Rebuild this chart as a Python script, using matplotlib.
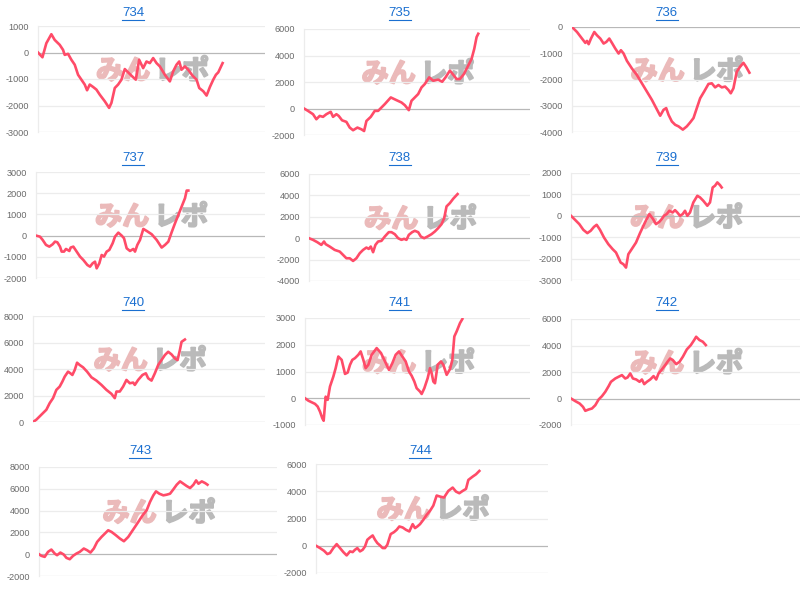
import matplotlib.pyplot as plt
from matplotlib.lines import Line2D
import matplotlib.patheffects as pe


# machine numbers (chart titles)
machines = ['734', '735', '736', '737', '738', '739', '740', '741', '742', '743', '744']

# games played / coin difference
g_734 = [0, 160, 300, 480, 600, 780, 900, 960, 1080, 1200, 1320, 1440, 1560, 1680, 1764, 1860, 1980, 2100, 2220,
         2400, 2556, 2640, 2760, 2880, 3000, 3120, 3240, 3360, 3516, 3636, 3780, 3900, 4020, 4140, 4260, 4380,
         4560, 4740, 4860, 4980, 5076, 5160, 5280, 5400, 5556, 5700, 5796, 5940, 6060, 6180, 6300, 6396, 6480, 6636]
d_734 = [0, -180, 350, 690, 475, 290, 100, -90, -50, -275, -460, -840, -1025, -1210, -1425, -1210, -1300, -1400,
         -1590, -1840, -2090, -1900, -1340, -1210, -1025, -625, -750, -875, -1025, -275, -590, -340, -400, -210,
         -400, -525, -840, -1090, -710, -460, -340, -650, -525, -650, -875, -1025, -1340, -1460, -1625, -1300,
         -1025, -840, -750, -400]

g_735 = [0, 144, 324, 444, 564, 684, 804, 960, 1044, 1164, 1248, 1368, 1524, 1644, 1764, 1920, 2064, 2160, 2244,
         2400, 2544, 2664, 2784, 2904, 3120, 3324, 3504, 3624, 3768, 3864, 3984, 4104, 4224, 4344, 4500, 4644,
         4824, 4968, 5088, 5244, 5364, 5484, 5604, 5748, 5904, 6024, 6120, 6204, 6264]
d_735 = [0, -180, -430, -810, -560, -630, -430, -250, -630, -430, -560, -890, -1010, -1440, -1640, -1440, -1570,
         -1700, -940, -630, -180, -180, 75, 330, 835, 630, 455, 250, -125, 580, 835, 1090, 1590, 1850, 2350, 2100,
         2175, 2020, 2350, 2860, 2550, 2225, 2225, 2600, 3240, 3745, 4500, 5390, 5640]

g_736 = [0, 180, 360, 480, 540, 600, 684, 804, 900, 1020, 1140, 1236, 1344, 1440, 1560, 1680, 1764, 1860, 1980,
         2160, 2340, 2520, 2700, 2880, 3036, 3180, 3300, 3396, 3480, 3600, 3720, 3840, 3996, 4140, 4260, 4380,
         4500, 4620, 4764, 4920, 5040, 5160, 5280, 5400, 5520, 5640, 5724, 5820, 5940, 6060, 6180, 6276, 6396]
d_736 = [0, -190, -440, -605, -530, -655, -440, -190, -315, -440, -630, -570, -440, -605, -820, -1010, -885,
         -1010, -1290, -1580, -1830, -2145, -2460, -2775, -3090, -3380, -3155, -3090, -3345, -3600, -3725, -3785,
         -3910, -3785, -3635, -3470, -3090, -2715, -2460, -2170, -2145, -2300, -2210, -2300, -2270, -2400, -2525,
         -2335, -1705, -1515, -1365, -1515, -1740]

g_737 = [0, 144, 240, 360, 480, 600, 684, 768, 864, 924, 1008, 1080, 1200, 1248, 1344, 1464, 1584, 1704, 1848,
         1944, 2040, 2124, 2184, 2280, 2364, 2448, 2544, 2640, 2760, 2844, 2964, 3084, 3168, 3264, 3384, 3504,
         3564, 3648, 3744, 3864, 3984, 4164, 4344, 4524, 4644, 4764, 4884, 5004, 5124, 5244, 5364, 5424, 5484]
d_737 = [0, -50, -205, -440, -520, -410, -285, -315, -520, -755, -755, -630, -725, -565, -520, -755, -990, -1150,
         -1385, -1465, -1305, -1230, -1545, -1305, -915, -990, -755, -675, -360, -50, 140, 0, -125, -600, -725,
         -630, -755, -440, -205, 315, 220, 65, -205, -565, -440, -285, 160, 580, 975, 1370, 1765, 2125, 2125]

g_738 = [0, 144, 300, 444, 540, 600, 744, 924, 1104, 1224, 1344, 1464, 1584, 1704, 1824, 1944, 2064, 2148, 2220,
         2304, 2388, 2484, 2604, 2724, 2868, 2964, 3084, 3204, 3324, 3420, 3504, 3588, 3708, 3804, 3924, 4020,
         4140, 4260, 4404, 4524, 4644, 4764, 4860, 4944, 5064, 5184, 5340]
d_738 = [0, -155, -375, -625, -310, -560, -780, -1095, -1250, -1560, -1875, -1875, -2125, -1875, -1405, -1095,
         -875, -1000, -780, -1310, -625, -310, -250, 155, 565, 565, 375, 0, -155, -60, -155, 310, 565, 690, 565,
         155, 0, 155, 375, 625, 940, 1310, 1875, 2970, 3280, 3690, 4125]

g_739 = [0, 144, 300, 444, 588, 708, 828, 924, 1044, 1188, 1344, 1500, 1620, 1704, 1788, 1884, 1980, 2064, 2184,
         2340, 2484, 2664, 2820, 2940, 3060, 3180, 3264, 3348, 3444, 3540, 3660, 3744, 3828, 3924, 4020, 4104,
         4188, 4284, 4404, 4548, 4644, 4764, 4908, 5004, 5100, 5184, 5268, 5364, 5424]
d_739 = [0, -185, -390, -655, -810, -700, -515, -420, -655, -1015, -1325, -1560, -1715, -1950, -2185, -2260,
         -2420, -1795, -1560, -1250, -810, -310, 80, -125, -390, -280, -155, 0, 80, 235, 155, 265, 155, 0, 80,
         235, 0, 155, 625, 935, 860, 700, 470, 625, 1325, 1405, 1560, 1435, 1325]

g_740 = [0, 120, 240, 360, 480, 600, 720, 840, 960, 1056, 1140, 1260, 1344, 1416, 1500, 1584, 1680, 1800, 1944,
         2100, 2280, 2460, 2640, 2820, 2940, 3000, 3120, 3240, 3360, 3480, 3600, 3660, 3780, 3936, 4056, 4140,
         4260, 4380, 4500, 4620, 4740, 4860, 4980, 5100, 5196, 5280, 5340, 5460]
d_740 = [0, 175, 425, 675, 925, 1425, 1800, 2425, 2675, 3050, 3425, 3800, 3675, 3550, 3925, 4475, 4300, 4125,
         3800, 3375, 3125, 2800, 2425, 2125, 1800, 2300, 2300, 2675, 3175, 2925, 2975, 2800, 3175, 3550, 3675,
         3300, 3125, 3675, 4300, 4675, 5050, 5300, 5100, 4800, 4675, 5425, 6050, 6225]

g_741 = [0, 120, 240, 360, 456, 540, 624, 672, 744, 816, 900, 1020, 1104, 1200, 1320, 1440, 1536, 1620, 1704,
         1800, 1920, 2004, 2100, 2184, 2280, 2400, 2580, 2736, 2880, 3024, 3144, 3264, 3384, 3504, 3624, 3744,
         3840, 3936, 4020, 4140, 4200, 4296, 4416, 4500, 4560, 4620, 4680, 4776, 4896, 4980, 5100, 5220, 5304,
         5376, 5460, 5580, 5664]
d_741 = [0, -90, -150, -210, -310, -500, -750, -840, 60, -60, 440, 810, 1125, 1560, 1435, 910, 960, 1250, 1435,
         1500, 1625, 1750, 1435, 1125, 1250, 1625, 1875, 1690, 1375, 1060, 1310, 1625, 1750, 1560, 1375, 1000,
         840, 625, 375, 250, 160, 375, 750, 1125, 935, 625, 560, 1250, 1375, 1250, 875, 1090, 1435, 2310, 2500,
         2810, 2960]

g_742 = [0, 156, 312, 432, 516, 636, 756, 876, 996, 1116, 1236, 1356, 1440, 1596, 1716, 1836, 1956, 2040, 2136,
         2232, 2352, 2472, 2556, 2640, 2736, 2856, 2976, 3072, 3156, 3276, 3396, 3480, 3576, 3672, 3792, 3912,
         4032, 4176, 4320, 4440, 4512, 4632, 4752, 4860]
d_742 = [0, -200, -380, -630, -930, -830, -755, -505, -75, 175, 505, 930, 1260, 1510, 1640, 1765, 1510, 1590,
         1890, 1510, 1435, 1260, 1435, 1085, 1260, 1435, 1690, 1435, 1890, 2190, 2520, 2770, 3025, 2900, 2595,
         2770, 3150, 3705, 4030, 4410, 4660, 4410, 4285, 4030]

g_743 = [0, 84, 204, 324, 444, 564, 648, 768, 888, 984, 1104, 1224, 1344, 1464, 1608, 1728, 1848, 1968, 2088,
         2244, 2364, 2484, 2604, 2760, 2904, 3048, 3204, 3324, 3444, 3564, 3720, 3864, 3984, 4104, 4200, 4320,
         4464, 4584, 4704, 4824, 4944, 5064, 5184, 5304, 5424, 5544, 5640, 5724, 5844, 5964, 6048]
d_743 = [0, -150, -245, 215, 425, 60, -90, 150, -30, -335, -460, -150, 60, 215, 520, 365, 150, 520, 1130, 1585,
         1890, 2195, 2045, 1740, 1435, 1190, 1585, 2045, 2500, 2960, 3570, 4025, 4790, 5400, 5765, 5550, 5400,
         5460, 5550, 5950, 6375, 6680, 6465, 6250, 6070, 6375, 6770, 6465, 6680, 6525, 6375]

g_744 = [0, 144, 288, 408, 504, 624, 744, 864, 984, 1104, 1224, 1320, 1404, 1488, 1584, 1680, 1764, 1848, 1944,
         2040, 2124, 2208, 2304, 2400, 2484, 2568, 2688, 2808, 2904, 3000, 3120, 3240, 3360, 3480, 3564, 3648,
         3744, 3864, 3984, 4104, 4224, 4344, 4464, 4608, 4764, 4920, 5040, 5160, 5280, 5400, 5484, 5640, 5760,
         5880]
d_744 = [0, -170, -365, -610, -535, -170, 120, -170, -465, -710, -415, -465, -295, -170, -415, -295, -50, 440,
         610, 755, 440, 195, 25, -170, -170, 75, 855, 1000, 1170, 1415, 1340, 1170, 1050, 1585, 1295, 1415, 1585,
         1905, 2270, 2560, 2950, 3685, 3610, 3540, 4025, 4270, 3975, 3855, 4025, 4170, 4830, 5075, 5245, 5490]

# y ticks of every small chart
ticks_734 = [-3000, -2000, -1000, 0, 1000]
ticks_735 = [-2000, 0, 2000, 4000, 6000]
ticks_736 = [-4000, -3000, -2000, -1000, 0]
ticks_737 = [-2000, -1000, 0, 1000, 2000, 3000]
ticks_738 = [-4000, -2000, 0, 2000, 4000, 6000]
ticks_739 = [-3000, -2000, -1000, 0, 1000, 2000]
ticks_740 = [0, 2000, 4000, 6000, 8000]
ticks_741 = [-1000, 0, 1000, 2000, 3000]
ticks_742 = [-2000, 0, 2000, 4000, 6000]
ticks_743 = [-2000, 0, 2000, 4000, 6000, 8000]
ticks_744 = [-2000, 0, 2000, 4000, 6000]


LINE_COLOR = '#ff4b68'
PINK = '#ebbaba'
GRAY = '#bababa'


def drawChart(fig, box, panel, games, diffs, ticks, xmax, title):

    W, H = 800.0, 590.0
    left, top, right, bottom = box
    ax = fig.add_axes([left / W, 1 - bottom / H, (right - left) / W, (bottom - top) / H])

    # watermark logo (fattened a little with a stroke of the same colour)
    ax.text(0.495, 0.575, 'みん', transform=ax.transAxes, ha='right', va='center', fontsize=19.5,
            fontweight='bold', color=PINK, family=['Noto Sans CJK JP'], zorder=0,
            path_effects=[pe.withStroke(linewidth=1.4, foreground=PINK)])
    ax.text(0.515, 0.575, 'レポ', transform=ax.transAxes, ha='left', va='center', fontsize=19.5,
            fontweight='bold', color=GRAY, family=['Noto Sans CJK JP'], zorder=0,
            path_effects=[pe.withStroke(linewidth=1.4, foreground=GRAY)])

    ax.plot(games, diffs, color=LINE_COLOR, lw=1.9, solid_joinstyle='round', zorder=3)

    ax.set_xlim(0, xmax)
    ax.set_ylim(ticks[0], ticks[-1])
    ax.set_yticks(ticks)
    ax.set_yticklabels([str(t) for t in ticks])
    ax.set_xticks([])

    for t in ticks:
        if t == 0:
            ax.axhline(0, color='#b8b8b8', lw=0.9, zorder=2)
        elif t == ticks[0]:
            ax.axhline(t, color='#dcdcdc', lw=0.9, zorder=1)
        else:
            ax.axhline(t, color='#ececec', lw=0.9, zorder=1)

    for s in ['top', 'right', 'bottom']:
        ax.spines[s].set_visible(False)
    ax.spines['left'].set_color('#ececec')
    ax.spines['left'].set_linewidth(0.9)
    ax.tick_params(axis='y', length=0, pad=6.5, labelsize=6.6, labelcolor='#6a6a6a')
    for lab in ax.get_yticklabels():
        lab.set_family('Liberation Sans')
    ax.patch.set_alpha(0)

    # title as underlined link text, centred on the panel
    px0, px1, ty = panel
    cx = (px0 + px1) / 2.0
    fig.text(cx / W, 1 - ty / H, title, ha='center', va='center', fontsize=9.5,
             color='#1a6fd0', family='Liberation Sans')
    fig.add_artist(Line2D([(cx - 11) / W, (cx + 11) / W], [1 - (ty + 6.5) / H, 1 - (ty + 6.5) / H],
                          color='#1a6fd0', lw=0.8))


def main():

    fig = plt.figure(figsize=(8, 5.9), dpi=100)

    games = [g_734, g_735, g_736, g_737, g_738, g_739, g_740, g_741, g_742, g_743, g_744]
    diffs = [d_734, d_735, d_736, d_737, d_738, d_739, d_740, d_741, d_742, d_743, d_744]
    ticks = [ticks_734, ticks_735, ticks_736, ticks_737, ticks_738, ticks_739, ticks_740, ticks_741,
             ticks_742, ticks_743, ticks_744]

    # axes boxes in pixels: left, top, right, bottom
    boxes = [(38, 26, 265, 132), (304, 29, 530, 135), (572, 27, 800, 132),
             (36, 172, 265, 278), (309, 174, 530, 281), (571, 173, 800, 280),
             (33, 316, 265, 422), (305, 318, 530, 425), (571, 319, 800, 425),
             (39, 467, 277, 576), (316, 464, 548, 573)]
    panels = [(0, 266, 13), (266, 533, 13), (533, 800, 13),
              (0, 266, 158), (266, 533, 158), (533, 800, 158),
              (0, 266, 303), (266, 533, 303), (533, 800, 303),
              (0, 280, 451), (280, 560, 451)]
    xmaxs = [8160, 8124, 8220, 8244, 7944, 8244, 8340, 8100, 8256, 8544, 8352]

    for i in range(len(machines)):
        drawChart(fig, boxes[i], panels[i], games[i], diffs[i], ticks[i], xmaxs[i], machines[i])

    fig.savefig('out.png', dpi=100)


main()
